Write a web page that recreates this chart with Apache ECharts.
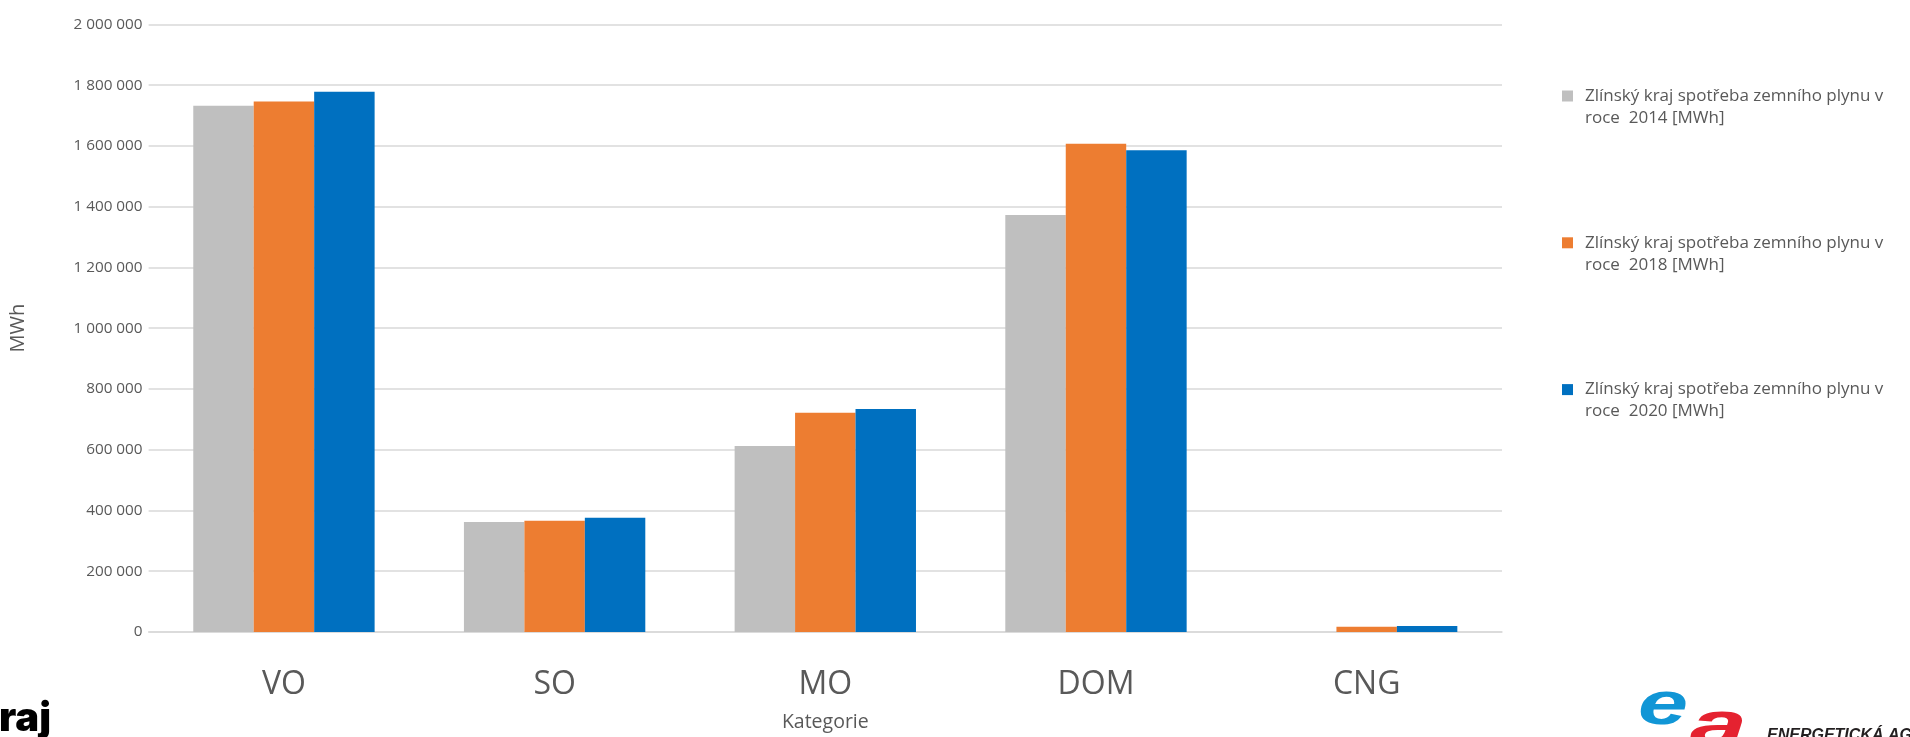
<!DOCTYPE html>
<html>
<head>
<meta charset="utf-8">
<script src="https://cdn.jsdelivr.net/npm/echarts@6/dist/echarts.min.js"></script>
<style>
html,body{margin:0;padding:0;background:#fff;}
#chart{width:1910px;height:737px;}
</style>
</head>
<body>
<div id="chart"></div>
<script>
const categories = ['VO', 'SO', 'MO', 'DOM', 'CNG'];
const seriesNames = [
  'Zlínský kraj spotřeba zemního plynu v roce  2014 [MWh]',
  'Zlínský kraj spotřeba zemního plynu v roce  2018 [MWh]',
  'Zlínský kraj spotřeba zemního plynu v roce  2020 [MWh]'
];
const values2014 = [1732000, 362000, 612000, 1373000, 0];
const values2018 = [1746000, 366000, 722000, 1607000, 17000];
const values2020 = [1778000, 376000, 734000, 1586000, 20000];
const colors = ['#BFBFBF', '#ED7D31', '#0070C0'];

const FONT = '"Open Sans", "Noto Sans", sans-serif';
const fmt = v => String(v).replace(/\B(?=(\d{3})+(?!\d))/g, ' ');

const chart = echarts.init(document.getElementById('chart'));
const allValues = [values2014, values2018, values2020];
chart.setOption({
  backgroundColor: '#ffffff',
  animation: false,
  textStyle: { fontFamily: FONT },
  grid: { left: 148.6, right: 408, top: 24.4, bottom: 103.5 },
  legend: {
    orient: 'vertical',
    left: 1562,
    top: 63,
    padding: 0,
    itemGap: 80.8,
    itemWidth: 11,
    itemHeight: 11,
    icon: 'rect',
    selectedMode: false,
    formatter: name => ' \n' + name.replace(' v roce', ' v\nroce'),
    textStyle: {
      fontFamily: FONT,
      fontSize: 17,
      color: '#595959',
      lineHeight: 22,
      padding: [0, 0, 0, 7]
    },
    data: seriesNames
  },
  xAxis: {
    type: 'category',
    data: categories,
    name: 'Kategorie',
    nameLocation: 'middle',
    nameGap: 80,
    nameTextStyle: { fontFamily: FONT, fontSize: 19.5, color: '#595959' },
    axisLine: { show: true, lineStyle: { color: '#D9D9D9', width: 1.5 } },
    axisTick: { show: false },
    axisLabel: { fontFamily: FONT, fontSize: 32, color: '#595959', margin: 37 }
  },
  yAxis: {
    type: 'value',
    min: 0,
    max: 2000000,
    interval: 200000,
    name: 'MWh',
    nameLocation: 'middle',
    nameGap: 120,
    nameTextStyle: { fontFamily: FONT, fontSize: 20, color: '#595959' },
    axisLine: { show: false },
    axisTick: { show: false },
    splitLine: { lineStyle: { color: '#D9D9D9', width: 1.5 } },
    axisLabel: { fontFamily: FONT, fontSize: 15.3, color: '#595959', margin: 6, formatter: fmt }
  },
  series: seriesNames.map((n, i) => ({
    name: n,
    type: 'bar',
    data: allValues[i],
    barGap: '0%',
    barCategoryGap: '33%',
    itemStyle: { color: colors[i] }
  })),
  graphic: [
    {
      type: 'text', x: -1, y: 719,
      style: { text: 'raj', font: '900 40px Inter, "Liberation Sans", Arial, sans-serif', fill: '#000000', textAlign: 'left', textVerticalAlign: 'middle' }
    },
    {
      type: 'text', x: 1638, y: 707, scaleX: 1.45,
      style: { text: 'e', font: 'italic bold 62px "Liberation Sans", Arial, sans-serif', fill: '#1196D6', textAlign: 'left', textVerticalAlign: 'middle' }
    },
    {
      type: 'text', x: 1690, y: 728, scaleX: 1.6,
      style: { text: 'a', font: 'italic bold 64px "Liberation Sans", Arial, sans-serif', fill: '#E52230', textAlign: 'left', textVerticalAlign: 'middle' }
    },
    {
      type: 'text', x: 1767, y: 735.5,
      style: { text: 'ENERGETICKÁ AGENTURA', font: 'italic bold 16px "Liberation Sans", Arial, sans-serif', fill: '#231F20', textAlign: 'left', textVerticalAlign: 'middle' }
    }
  ]
});
</script>
</body>
</html>
